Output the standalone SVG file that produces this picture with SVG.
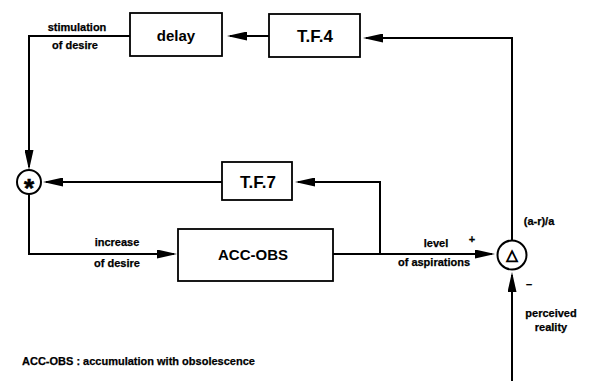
<svg xmlns="http://www.w3.org/2000/svg" width="589" height="381" viewBox="0 0 589 381">
<style>
.box{fill:#fff;stroke:#000;stroke-width:1.8}
.ln{fill:none;stroke:#000;stroke-width:2}
.arr{marker-end:url(#ah)}
.big{font-family:"Liberation Sans",Arial,sans-serif;font-weight:bold;fill:#000;text-anchor:middle}
.sm{font-family:"Liberation Sans",Arial,sans-serif;font-weight:bold;font-size:11px;fill:#000;text-anchor:middle;stroke:#000;stroke-width:0.25}
.op{fill:#fff;stroke:#000;stroke-width:2}
.sym{font-family:"DejaVu Sans",sans-serif;fill:#000;text-anchor:middle;stroke:#000}
</style>
<defs>
<marker id="ah" markerUnits="userSpaceOnUse" markerWidth="20" markerHeight="9" refX="17" refY="4.5" orient="auto">
<path d="M0,0 L20,4.5 L0,9 Z" fill="#000"/>
</marker>
</defs>
<rect width="589" height="381" fill="#fff"/>
<g id="connectors">
<path class="ln arr" d="M269,36 L230,36"/>
<path class="ln arr" d="M512,240 L512,38 L366,38"/>
<path class="ln arr" d="M130,36 L29,36 L29,167"/>
<path class="ln arr" d="M380,254 L380,182 L298,182"/>
<path class="ln arr" d="M222,182 L46,182"/>
<path class="ln arr" d="M29,194 L29,254 L174,254"/>
<path class="ln arr" d="M333,254 L492,254"/>
<path class="ln arr" d="M512,381 L512,275"/>
</g>
<g id="delay">
<rect class="box" x="130" y="13" width="92" height="43"/>
<text class="big" x="176" y="41" font-size="15">delay</text>
</g>
<g id="tf4">
<rect class="box" x="269" y="14" width="91" height="43"/>
<text class="big" x="315" y="42" font-size="17">T.F.4</text>
</g>
<g id="tf7">
<rect class="box" x="222" y="162" width="70" height="38"/>
<text class="big" x="258" y="188" font-size="17">T.F.7</text>
</g>
<g id="accobs">
<rect class="box" x="178" y="229" width="155" height="52"/>
<text class="big" x="253" y="260" font-size="15">ACC-OBS</text>
</g>
<g id="star">
<circle class="op" cx="29" cy="182" r="12"/>
<text class="big" x="29" y="197" font-size="26" stroke="#000" stroke-width="0.6">*</text>
</g>
<g id="delta">
<circle class="op" cx="512" cy="255" r="14.5"/>
<text class="sym" x="512" y="260" font-size="15" stroke-width="0.9">△</text>
</g>
<g id="labels">
<text class="sm" x="77" y="31">stimulation</text>
<text class="sm" x="75" y="49">of desire</text>
<text class="sm" x="117" y="246">increase</text>
<text class="sm" x="117" y="267">of desire</text>
<text class="sm" x="436" y="247">level</text>
<text class="sm" x="472" y="243">+</text>
<text class="sm" x="434" y="266">of aspirations</text>
<text class="sm" x="539" y="225">(a-r)/a</text>
<text class="sm" x="529" y="288">–</text>
<text class="sm" x="551" y="317">perceived</text>
<text class="sm" x="551" y="331">reality</text>
<text class="sm" x="22" y="365" style="text-anchor:start">ACC-OBS : accumulation with obsolescence</text>
</g>
</svg>
